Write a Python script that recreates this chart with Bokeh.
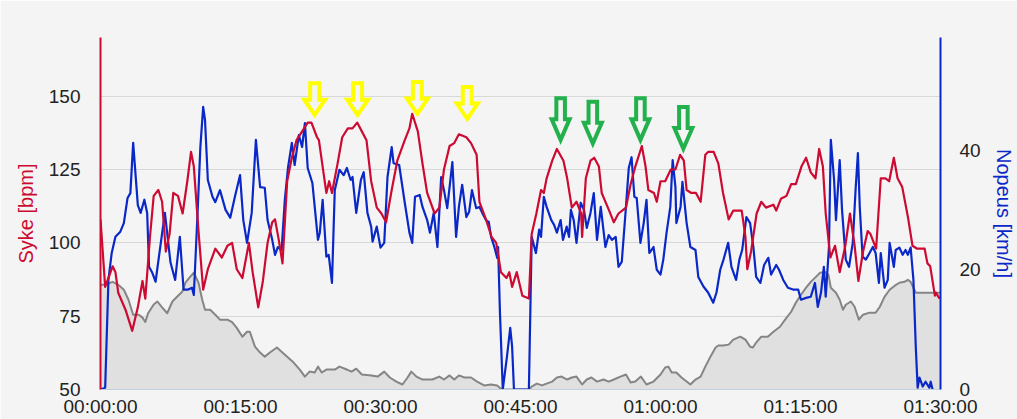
from bokeh.plotting import figure
from bokeh.models import Range1d, LinearAxis, FixedTicker
from bokeh.embed import file_html
from bokeh.resources import INLINE

# ---------------- data ----------------
# time axis (minutes) ticks and labels
TIME_TICKS = [0, 15, 30, 45, 60, 75, 90]
TIME_LABELS = ["00:00:00", "00:15:00", "00:30:00", "00:45:00", "01:00:00", "01:15:00", "01:30:00"]
HR_TICKS = [50, 75, 100, 125, 150]
SPEED_TICKS = [0, 20, 40]

# heart rate (Syke, bpm)
hr_t = [0.0, 0.5, 1.3, 1.6, 1.9, 2.7, 3.0, 3.4, 4.0, 4.5,
        4.8, 5.3, 5.7, 6.2, 6.6, 7.0, 7.4, 7.8, 8.3, 8.8,
        9.3, 9.7, 10.0, 10.5, 11.0, 11.5, 12.3, 13.0, 13.6, 14.1,
        14.6, 15.2, 15.9, 16.3, 16.9, 17.4, 17.9, 18.4, 18.7, 19.1,
        19.5, 20.0, 20.5, 21.0, 21.4, 22.2, 22.6, 23.2, 23.4, 23.8,
        24.2, 24.5, 24.8, 25.4, 25.9, 26.5, 27.0, 27.5, 28.0, 28.5,
        29.0, 29.6, 30.1, 30.6, 31.2, 31.8, 32.6, 33.1, 33.4, 34.0,
        34.5, 35.0, 35.8, 36.3, 36.8, 37.4, 37.9, 38.4, 39.2, 39.7,
        40.3, 40.6, 41.3, 41.9, 42.4, 42.9, 43.5, 43.8, 44.1, 44.6,
        45.2, 45.9, 46.2, 46.7, 47.2, 47.5, 47.8, 48.4, 48.9, 49.6,
        50.0, 50.5, 51.0, 51.5, 51.6, 52.0, 52.5, 52.9, 53.4, 53.7,
        54.5, 55.0, 55.5, 56.3, 56.8, 57.3, 58.0, 58.4, 58.7, 59.3,
        59.6, 60.0, 60.5, 61.1, 61.6, 62.1, 62.5, 62.8, 63.3, 63.8,
        64.3, 64.8, 65.1, 65.7, 66.2, 66.7, 67.3, 67.8, 68.7, 69.1,
        69.3, 69.7, 70.3, 70.8, 71.3, 72.1, 72.4, 72.9, 73.5, 74.0,
        74.5, 75.1, 75.6, 76.1, 76.6, 77.0, 77.4, 77.7, 78.2, 78.7,
        79.2, 79.8, 80.3, 80.8, 81.2, 81.7, 82.2, 82.5, 83.1, 83.6,
        84.1, 84.5, 85.0, 85.4, 85.9, 86.5, 87.0, 87.5, 88.3, 88.6,
        88.9, 89.4, 89.5, 89.9]
hr_v = [108, 85, 92, 90, 83, 77, 74, 70, 78, 87,
        81, 102, 116, 118, 114, 97, 103, 117, 116, 110,
        121, 131, 126, 104, 84, 91, 98, 95, 99, 100,
        91, 88, 100, 90, 78, 87, 100, 107, 108, 101,
        93, 121, 129, 135, 137, 141, 141, 136, 135, 126,
        117, 121, 117, 127, 136, 139, 139, 141, 138, 135,
        121, 112, 110, 107, 118, 128, 135, 139, 144, 138,
        127, 117, 110, 112, 125, 133, 134, 137, 136, 134,
        130, 114, 108, 102, 100, 90, 88, 90, 85, 90,
        82, 81, 103, 110, 118, 117, 122, 128, 132, 128,
        122, 112, 114, 110, 102, 122, 128, 129, 126, 117,
        111, 107, 110, 112, 120, 126, 133, 126, 118, 117,
        114, 121, 121, 125, 125, 130, 128, 118, 117, 117,
        114, 130, 131, 131, 127, 117, 108, 111, 111, 102,
        91, 97, 110, 114, 112, 113, 111, 115, 116, 120,
        120, 126, 129, 124, 122, 132, 126, 110, 95, 99,
        90, 99, 110, 99, 87, 97, 104, 103, 98, 122,
        122, 121, 129, 122, 119, 109, 99, 98, 98, 93,
        92, 82, 83, 81]

# speed (Nopeus, km/h)
sp_t = [0.0, 0.5, 0.85, 1.2, 1.6, 2.1, 2.5, 2.9, 3.2, 3.5,
        4.0, 4.3, 4.7, 5.0, 5.2, 5.55, 5.9, 6.4, 6.9, 7.5,
        8.0, 8.5, 8.9, 9.4, 9.8, 10.0, 10.4, 10.7, 11.0, 11.2,
        11.5, 12.0, 12.3, 12.8, 13.4, 13.9, 14.4, 14.95, 15.3, 15.7,
        16.2, 16.65, 17.1, 17.6, 17.9, 18.4, 18.7, 19.0, 19.4, 19.75,
        20.1, 20.5, 20.8, 21.25, 21.6, 21.9, 22.2, 22.7, 23.3, 23.5,
        23.8, 24.2, 24.45, 24.8, 25.1, 25.6, 26.05, 26.4, 26.8, 27.0,
        27.4, 27.9, 28.2, 28.6, 29.0, 29.15, 29.6, 30.0, 30.4, 30.75,
        31.2, 31.4, 32.0, 32.6, 33.1, 33.4, 33.7, 34.2, 34.5, 35.0,
        35.3, 35.7, 36.1, 36.5, 36.8, 37.15, 37.7, 38.1, 38.4, 38.75,
        39.2, 39.5, 39.8, 40.25, 40.6, 40.9, 41.3, 41.6, 41.85, 42.2,
        42.5, 42.6, 42.8, 43.1, 43.55, 43.9, 44.1, 44.3, 45.9, 46.2,
        46.65, 47.0, 47.2, 47.5, 47.8, 48.3, 48.6, 48.9, 49.3, 49.55,
        49.95, 50.2, 50.4, 50.7, 51.0, 51.45, 51.8, 52.1, 52.5, 52.85,
        53.2, 53.6, 54.1, 54.45, 54.8, 55.2, 55.5, 55.85, 56.25, 56.6,
        56.9, 57.2, 57.45, 57.85, 58.2, 58.5, 58.8, 59.25, 59.6, 60.0,
        60.3, 60.65, 61.05, 61.3, 61.6, 61.7, 62.15, 62.35, 62.8, 63.2,
        63.75, 64.05, 64.6, 65.1, 65.65, 66.0, 66.4, 66.75, 67.25, 67.6,
        68.1, 68.45, 68.75, 69.2, 69.6, 69.95, 70.25, 70.7, 71.1, 71.55,
        71.85, 72.4, 72.7, 73.15, 73.65, 74.2, 74.75, 75.05, 75.6, 76.1,
        76.55, 76.85, 77.2, 77.5, 77.7, 78.05, 78.25, 78.6, 78.8, 79.2,
        79.45, 79.85, 80.2, 80.6, 80.9, 81.15, 81.35, 81.65, 82.0, 82.4,
        82.75, 83.05, 83.4, 83.6, 84.0, 84.35, 84.55, 85.0, 85.2, 85.6,
        85.95, 86.25, 86.5, 86.8, 87.1, 87.35, 87.55, 87.75, 88.1, 88.4,
        88.8, 88.95, 89.15]
sp_v = [0, 0.3, 18.3, 22.8, 25.5, 26.3, 27.8, 32, 32.8, 41.2,
        30.8, 29.5, 31.7, 29.5, 20.5, 19.5, 18, 23.8, 29.5, 21.2,
        18.3, 25.5, 16.7, 16.7, 17, 15.8, 29.5, 40.5, 47.2, 45,
        35, 32.2, 31.3, 33.3, 30, 28.7, 32.2, 35.8, 28.3, 24.5,
        29.5, 41.7, 33.8, 33.7, 28.3, 25, 22.5, 23.8, 23.3, 31.7,
        37.2, 41.2, 37.5, 42.5, 40.5, 44.5, 37, 34.5, 25, 26.2,
        31.7, 22.2, 22.5, 17.8, 33.3, 36.7, 35.8, 37, 35, 35.5,
        29.5, 35, 36.3, 29.5, 27.2, 24.7, 27.2, 23.7, 24.5, 35.5,
        40.5, 37.8, 37.5, 31.2, 26.2, 24.5, 32.2, 32.5, 30.5, 28.3,
        26.2, 29.5, 23.8, 35.5, 33.3, 30.3, 38, 25.5, 30.5, 34.2,
        28.8, 29.7, 33.3, 30.3, 30.5, 29.5, 28.3, 28, 25.5, 23.8,
        22, 23.8, 12.8, 0, 5.5, 10.3, 7.2, 0, 0, 25.5,
        22.8, 26.7, 25.5, 32.2, 30.5, 28.3, 27.5, 26.2, 28.3, 25,
        27.2, 25.5, 30, 28.3, 24.5, 31.2, 30, 27, 29.5, 32.8,
        25, 30.5, 23.8, 25.8, 25, 25.5, 20.5, 21.3, 29.5, 37,
        38.8, 32.2, 32, 24.5, 27.8, 31.7, 22.8, 23.8, 20, 19.2,
        21.7, 26.2, 30.5, 38.3, 33.8, 27.8, 30.5, 34.7, 27.8, 23.8,
        23.3, 18.8, 17.2, 16.2, 14.5, 16.2, 20, 21.7, 24.5, 20.5,
        18.3, 21.7, 23.3, 28.8, 27.8, 23.8, 18.8, 17.8, 20.8, 22,
        19.2, 20.8, 20, 18.3, 17, 16.7, 16.7, 15, 15.3, 15.5,
        17.8, 13.8, 16.2, 20.5, 15.5, 23.8, 41.7, 35, 28.3, 38.3,
        30, 21.7, 20.5, 24.5, 33.3, 39.5, 30.5, 22.2, 21.7, 22.8,
        23.8, 22.8, 17.8, 22.8, 17, 18.3, 24.5, 20.5, 23.3, 23.7,
        22.5, 23.3, 22.5, 23.7, 18.3, 7.2, 0.3, 2, 0.5, 1.3,
        0.3, 1.3, 0]

# elevation profile (relative units, shown without an axis)
alt_t = [0.0, 0.5, 1.3, 1.9, 2.5, 3.0, 3.5, 4.1, 4.5, 4.8,
         5.1, 5.7, 6.1, 6.6, 7.15, 7.7, 8.2, 8.75, 9.1, 9.6,
         10.0, 10.5, 10.9, 11.2, 11.75, 12.3, 12.8, 13.6, 14.1, 14.6,
         15.2, 15.7, 16.0, 16.55, 17.1, 17.6, 18.15, 18.9, 19.4, 20.0,
         20.6, 21.35, 21.9, 22.4, 22.95, 23.3, 23.7, 24.2, 25.1, 25.6,
         26.4, 26.9, 27.4, 28.0, 29.0, 29.7, 30.4, 31.0, 31.7, 32.35,
         32.9, 33.3, 33.85, 34.5, 35.55, 36.3, 36.8, 37.4, 37.9, 38.4,
         39.0, 39.7, 40.35, 41.1, 41.85, 42.5, 43.0, 45.9, 46.2, 46.75,
         47.3, 47.8, 48.4, 48.9, 49.4, 50.0, 50.5, 51.0, 51.6, 52.1,
         52.6, 53.2, 53.9, 54.45, 55.0, 55.7, 56.3, 56.8, 57.3, 57.9,
         58.5, 59.25, 60.0, 60.5, 60.85, 61.2, 61.7, 62.25, 62.8, 63.2,
         63.75, 64.3, 64.8, 65.35, 65.9, 66.2, 66.7, 67.3, 67.8, 68.55,
         69.1, 69.6, 69.9, 70.25, 70.8, 71.5, 72.1, 72.8, 73.35, 74.0,
         74.5, 75.05, 75.6, 76.1, 76.65, 77.1, 77.6, 78.0, 78.25, 78.8,
         79.2, 79.55, 79.85, 80.4, 80.8, 81.25, 81.7, 82.4, 83.05, 83.5,
         84.0, 84.55, 85.1, 85.6, 86.15, 86.5, 86.8, 87.35, 88.1, 90.0]
alt_v = [35.7, 35.7, 36.7, 35.7, 34, 30.6, 25.5, 25.5, 24.5, 23,
         26, 29, 30, 28, 26, 30, 31.6, 33.3, 36.4, 38.4,
         39.8, 36.4, 30.6, 27.2, 27.2, 25.5, 23.8, 23.8, 23, 21,
         18, 19.7, 19.7, 14.6, 12.6, 11.2, 12.6, 14.3, 12.9, 11.2,
         9.5, 6.8, 4.4, 6.1, 5.8, 7.8, 5.8, 6.8, 6.8, 7.8,
         6.8, 6.1, 7.1, 5.1, 4.8, 4.4, 6.1, 4.1, 2.7, 1.7,
         4.1, 6.1, 4.4, 3.4, 3.4, 4.4, 3.4, 4.8, 3.4, 4.8,
         4.1, 4.1, 2.7, 1.4, 1.7, 1.4, 0, 0, 1, 2,
         1.4, 2, 2.7, 4.1, 4.4, 3.4, 4.1, 4.4, 1.7, 3.4,
         4.1, 2.7, 3.4, 2.7, 3.4, 4.4, 5.1, 2.4, 2.7, 4.4,
         1.7, 2.7, 5.1, 7.5, 7.8, 5.8, 5.8, 4.1, 2.7, 1.7,
         3.4, 4.4, 7.8, 11.2, 14.3, 15, 15, 15.3, 17, 18,
         17, 14.6, 14.3, 16, 18, 18, 19.7, 21.4, 23.8, 26.5,
         29.6, 32.3, 34.7, 36.7, 38.4, 39.8, 40.1, 39.1, 34.7, 33,
         30.6, 27.2, 28.9, 30, 28.2, 23.8, 25.5, 26.2, 26.2, 28.2,
         31.6, 34, 35.4, 36.4, 36.7, 37.4, 36.7, 33, 33, 33]

# marked heart-rate peaks (arrow tips): time (min), bpm
yellow_t = [22.95, 27.55, 33.95, 39.3]
yellow_hr = [142.5, 142.5, 142.9, 141.2]
green_t = [49.3, 52.75, 57.85, 62.45]
green_hr = [134.0, 132.8, 134.0, 131.0]

# ---------------- style / layout ----------------
W, H = 1017, 419
BL, BR, BT, BB = 100, 74, 37, 29
FW = W - BL - BR
FH = H - BT - BB
BG = "#f4f4f4"
RED = "#cc0a32"
BLUE = "#0a28c8"
FONT = "Liberation Sans"

X_END = 90
HR_START, HR_END = 50, 170
SP_END = 58.8
ALT_END = 120

p = figure(width=W, height=H, output_backend="svg", toolbar_location=None,
           x_range=Range1d(0, X_END), y_range=Range1d(HR_START, HR_END),
           min_border_left=BL, min_border_right=BR,
           min_border_top=BT, min_border_bottom=BB)
p.extra_y_ranges = {"speed": Range1d(0, SP_END), "alt": Range1d(0, ALT_END)}
p.background_fill_color = BG
p.border_fill_color = BG
p.outline_line_color = None

# x axis
xa = p.xaxis[0]
xa.ticker = FixedTicker(ticks=TIME_TICKS)
xa.major_label_overrides = {t: lab for t, lab in zip(TIME_TICKS, TIME_LABELS)}
xa.axis_line_color = "#c0d0e0"
xa.axis_line_width = 1
xa.major_tick_line_color = None
xa.minor_tick_line_color = None
xa.major_tick_out = 0
xa.major_tick_in = 0
xa.major_label_standoff = 6
xa.major_label_text_font = FONT
xa.major_label_text_font_size = "19px"
xa.major_label_text_color = "#222222"

# left axis
ya = p.yaxis[0]
ya.ticker = FixedTicker(ticks=HR_TICKS)
ya.axis_label = "Syke [bpm]"
ya.axis_label_text_color = RED
ya.axis_label_text_font = FONT
ya.axis_label_text_font_size = "20px"
ya.axis_label_text_font_style = "normal"
ya.axis_label_standoff = 9
ya.axis_line_color = RED
ya.axis_line_width = 2
ya.major_tick_line_color = None
ya.minor_tick_line_color = None
ya.major_tick_out = 0
ya.major_tick_in = 0
ya.major_label_standoff = 20
ya.major_label_text_font = FONT
ya.major_label_text_font_size = "19px"
ya.major_label_text_color = "#222222"

# right axis
ra = LinearAxis(y_range_name="speed", ticker=FixedTicker(ticks=SPEED_TICKS),
                axis_label="Nopeus [km/h]")
ra.axis_label_text_color = BLUE
ra.axis_label_text_font = FONT
ra.axis_label_text_font_size = "20px"
ra.axis_label_text_font_style = "normal"
ra.axis_label_standoff = 9
ra.axis_line_color = BLUE
ra.axis_line_width = 2
ra.major_tick_line_color = None
ra.minor_tick_line_color = None
ra.major_tick_out = 0
ra.major_tick_in = 0
ra.major_label_standoff = 19
ra.major_label_text_font = FONT
ra.major_label_text_font_size = "19px"
ra.major_label_text_color = "#222222"
p.add_layout(ra, "right")

p.xgrid.visible = False
p.ygrid.grid_line_color = "#d8d8d8"
p.ygrid.grid_line_width = 1.2

# elevation area
p.varea(x=alt_t, y1=[0] * len(alt_t), y2=alt_v, y_range_name="alt",
        fill_color="#e0e0e0", fill_alpha=1.0)
p.line(alt_t, alt_v, y_range_name="alt", line_color="#858585", line_width=2,
       line_join="round")

# speed and heart rate
p.line(sp_t, sp_v, y_range_name="speed", line_color=BLUE, line_width=2.2,
       line_join="round")
p.line(hr_t, hr_v, line_color=RED, line_width=2.2, line_join="round")

# hollow block arrows marking the peaks (shape in screen pixels)
kx = X_END / FW
ky = (HR_END - HR_START) / FH
YEL_SHAPE = [(0, 3.2), (10.5, 18.5), (4.5, 18.5), (4.5, 35.0),
             (-4.5, 35.0), (-4.5, 18.5), (-10.5, 18.5)]
GRN_SHAPE = [(0, 3.2), (9.0, 24.0), (4.3, 24.0), (4.3, 45.0),
             (-4.3, 45.0), (-4.3, 24.0), (-9.0, 24.0)]


def arrows(ts, vs, shape):
    xs = [[t + dx * kx for dx, dy in shape] for t in ts]
    ys = [[v + dy * ky for dx, dy in shape] for v in vs]
    return xs, ys


for ts, vs, shape, col in [(yellow_t, yellow_hr, YEL_SHAPE, "#ffff00"),
                           (green_t, green_hr, GRN_SHAPE, "#22b14c")]:
    xs, ys = arrows(ts, vs, shape)
    p.patches(xs, ys, fill_color=BG, fill_alpha=1.0, line_color=col,
              line_width=4, line_join="miter")

open("out.html", "w").write(file_html(p, INLINE))
